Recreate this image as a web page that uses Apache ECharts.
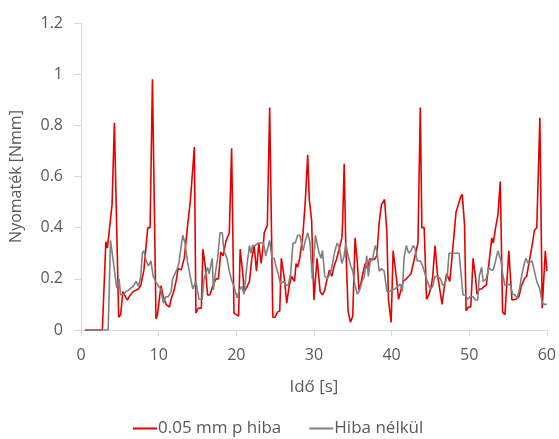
<!DOCTYPE html>
<html><head><meta charset="utf-8">
<script src="https://cdn.jsdelivr.net/npm/echarts@6/dist/echarts.min.js"></script>
<style>html,body{margin:0;padding:0;background:#fff}#c{width:559px;height:439px}</style>
</head><body><div id="c"></div>
<script>
const redName = "0.05 mm p hiba";
const grayName = "Hiba nélkül";
const xTicks = [0, 10, 20, 30, 40, 50, 60];
const yTicks = [0, 0.2, 0.4, 0.6, 0.8, 1, 1.2];

const redT = [0.5,2.75,3.2,3.4,4.0,4.3,4.85,5.1,5.4,5.6,5.97,6.2,6.7,7.4,7.7,8.1,8.6,8.9,9.2,9.66,9.85,10.3,10.6,11.0,11.4,11.6,12.0,12.3,12.5,12.9,13.3,13.7,14.1,14.6,14.8,15.1,15.5,15.7,16.0,16.3,16.6,17.0,17.4,17.7,18.0,18.3,18.7,19.1,19.4,19.7,20.0,20.3,20.5,20.9,21.0,21.4,21.7,22.0,22.3,22.6,22.9,23.2,23.5,23.6,24.0,24.3,24.7,25.0,25.3,25.6,25.8,26.2,26.5,26.8,27.1,27.5,27.7,27.9,28.2,28.6,28.9,29.2,29.4,29.7,30.0,30.2,30.4,30.8,31.1,31.4,31.7,32.0,32.3,32.6,32.9,33.2,33.6,33.7,33.9,34.1,34.4,34.7,35.0,35.3,35.6,35.8,36.0,36.3,36.6,36.9,37.2,37.5,37.8,38.1,38.4,38.7,39.1,39.4,39.6,39.95,40.2,40.6,40.9,41.2,41.5,41.9,42.2,42.5,42.8,43.1,43.4,43.7,43.9,44.2,44.5,44.8,45.1,45.3,45.6,45.9,46.5,46.8,47.1,47.5,47.8,48.3,48.6,48.9,49.1,49.4,49.6,49.9,50.2,50.5,50.8,51.0,51.3,51.6,51.9,52.2,52.5,52.9,53.1,53.4,53.7,54.0,54.3,54.6,55.1,55.5,56.0,56.4,56.7,57.1,57.4,57.8,58.1,58.4,58.7,59.1,59.4,59.8,60.0];
const redV = [0,0,0.345,0.32,0.49,0.81,0.05,0.06,0.15,0.137,0.117,0.13,0.15,0.16,0.175,0.234,0.40,0.40,0.98,0.043,0.06,0.173,0.13,0.098,0.09,0.12,0.156,0.2,0.24,0.235,0.28,0.40,0.51,0.715,0.066,0.085,0.085,0.316,0.25,0.137,0.137,0.175,0.2,0.2,0.305,0.29,0.35,0.38,0.71,0.066,0.06,0.055,0.316,0.2,0.148,0.17,0.19,0.28,0.33,0.23,0.34,0.26,0.34,0.38,0.41,0.87,0.05,0.05,0.07,0.075,0.28,0.2,0.105,0.17,0.21,0.19,0.26,0.245,0.286,0.38,0.51,0.685,0.51,0.43,0.117,0.115,0.28,0.15,0.137,0.156,0.2,0.234,0.21,0.25,0.276,0.31,0.36,0.42,0.65,0.33,0.075,0.03,0.055,0.36,0.26,0.156,0.175,0.22,0.26,0.24,0.28,0.276,0.276,0.29,0.42,0.49,0.51,0.38,0.117,0.03,0.31,0.21,0.12,0.156,0.19,0.2,0.21,0.22,0.26,0.3,0.34,0.87,0.4,0.4,0.12,0.137,0.17,0.21,0.33,0.22,0.1,0.17,0.22,0.19,0.29,0.46,0.49,0.52,0.53,0.41,0.075,0.09,0.09,0.28,0.21,0.14,0.16,0.16,0.17,0.175,0.25,0.36,0.34,0.4,0.45,0.58,0.07,0.06,0.31,0.117,0.12,0.13,0.17,0.2,0.21,0.28,0.33,0.39,0.4,0.83,0.085,0.31,0.23];

const grayT = [0.5,3.5,3.8,4.25,4.6,4.9,5.1,5.5,5.8,6.1,6.3,6.7,7.1,7.4,7.7,7.9,8.1,8.4,8.7,9.0,9.3,9.6,10.0,10.3,10.6,10.9,11.25,11.6,11.8,12.1,12.4,12.6,13.1,13.4,13.7,14.0,14.4,14.8,15.2,15.6,15.85,16.1,16.3,16.5,16.9,17.05,17.3,17.6,17.9,18.2,18.4,18.8,19.1,19.4,19.7,20.1,20.4,20.7,21.0,21.4,21.7,21.9,22.1,22.4,22.8,23.2,23.5,23.8,24.3,24.6,24.9,25.1,25.4,25.7,26.1,26.4,26.7,27.0,27.3,27.6,27.9,28.2,28.6,28.9,29.2,29.5,29.8,30.2,30.6,30.9,31.1,31.4,31.7,32.1,32.4,32.7,33.0,33.3,33.6,33.9,34.1,34.4,34.75,35.0,35.3,35.6,35.9,36.2,36.5,36.8,37.0,37.3,37.5,37.9,38.1,38.4,38.7,39.05,39.4,39.7,40.0,40.4,40.8,41.1,41.4,41.6,41.9,42.2,42.5,42.8,43.0,43.3,43.7,44.0,44.3,44.6,45.0,45.3,45.6,45.9,46.3,46.6,46.9,47.2,47.4,47.8,48.1,48.4,48.7,49.2,49.5,49.8,50.1,50.5,50.8,51.1,51.3,51.6,51.8,52.2,52.5,52.8,53.1,53.4,53.7,54.1,54.3,54.6,54.9,55.3,55.6,55.9,56.2,56.5,56.8,57.1,57.3,57.6,58.1,58.4,58.7,59.1,59.4,59.7,60.0];
const grayV = [0,0,0.35,0.247,0.164,0.2,0.137,0.14,0.15,0.156,0.15,0.17,0.19,0.17,0.21,0.3,0.31,0.27,0.25,0.27,0.21,0.19,0.17,0.16,0.105,0.13,0.13,0.15,0.2,0.22,0.24,0.26,0.37,0.34,0.27,0.22,0.16,0.19,0.12,0.12,0.2,0.2,0.245,0.22,0.28,0.156,0.22,0.28,0.38,0.38,0.31,0.28,0.23,0.195,0.17,0.126,0.156,0.17,0.14,0.26,0.33,0.3,0.33,0.33,0.34,0.34,0.34,0.29,0.35,0.28,0.28,0.25,0.22,0.18,0.19,0.175,0.175,0.22,0.34,0.34,0.37,0.37,0.31,0.35,0.38,0.34,0.2,0.37,0.31,0.28,0.31,0.21,0.2,0.22,0.26,0.31,0.34,0.32,0.26,0.29,0.34,0.29,0.25,0.23,0.175,0.14,0.156,0.19,0.21,0.29,0.21,0.28,0.27,0.33,0.31,0.23,0.24,0.23,0.15,0.15,0.156,0.16,0.17,0.18,0.15,0.28,0.33,0.3,0.31,0.33,0.32,0.27,0.27,0.25,0.22,0.19,0.16,0.17,0.21,0.21,0.2,0.175,0.18,0.22,0.3,0.3,0.3,0.3,0.3,0.137,0.137,0.12,0.13,0.13,0.117,0.117,0.21,0.245,0.19,0.2,0.245,0.235,0.235,0.27,0.31,0.27,0.22,0.175,0.18,0.175,0.14,0.137,0.125,0.164,0.22,0.26,0.28,0.26,0.27,0.23,0.19,0.16,0.105,0.1,0.1];

const zip = (a, b) => a.map((t, i) => [t, b[i]]);
const font = "'Open Sans', 'Liberation Sans', sans-serif";
const txt = '#595959';
const chart = echarts.init(document.getElementById('c'), null, {renderer: 'canvas'});
chart.setOption({
  animation: false,
  backgroundColor: '#fff',
  grid: {left: 81, right: 12, top: 23, bottom: 109, containLabel: false},
  xAxis: {
    type: 'value', min: xTicks[0], max: xTicks[xTicks.length - 1], interval: 10,
    name: 'Idő [s]', nameLocation: 'middle', nameGap: 49,
    nameTextStyle: {color: txt, fontSize: 17, fontFamily: font},
    axisLine: {show: true, lineStyle: {color: '#d9d9d9', width: 1}},
    axisTick: {show: true, length: 6, lineStyle: {color: '#d9d9d9'}},
    axisLabel: {color: txt, fontSize: 16, fontFamily: font, margin: 17},
    splitLine: {show: false}
  },
  yAxis: {
    type: 'value', min: yTicks[0], max: yTicks[yTicks.length - 1], interval: 0.2,
    name: 'Nyomaték [Nmm]', nameLocation: 'middle', nameGap: 57,
    nameTextStyle: {color: txt, fontSize: 16, fontFamily: font},
    axisLine: {show: true, lineStyle: {color: '#d9d9d9', width: 1}},
    axisTick: {show: true, length: 7, lineStyle: {color: '#d9d9d9'}},
    axisLabel: {color: txt, fontSize: 16, fontFamily: font, margin: 18},
    splitLine: {show: false}
  },
  legend: {
    top: 415, left: 128, itemGap: 28, itemWidth: 24, itemHeight: 2,
    icon: 'rect',
    textStyle: {color: txt, fontSize: 17, fontFamily: font, padding: [0, 0, 0, -4]},
    data: [redName, grayName]
  },
  series: [
    {name: redName, type: 'line', data: zip(redT, redV), showSymbol: false, symbol: 'none',
     lineStyle: {color: '#e60000', width: 1.6}, itemStyle: {color: '#e60000'}},
    {name: grayName, type: 'line', data: zip(grayT, grayV), showSymbol: false, symbol: 'none',
     lineStyle: {color: '#808080', width: 1.6}, itemStyle: {color: '#808080'}}
  ]
});
</script></body></html>
